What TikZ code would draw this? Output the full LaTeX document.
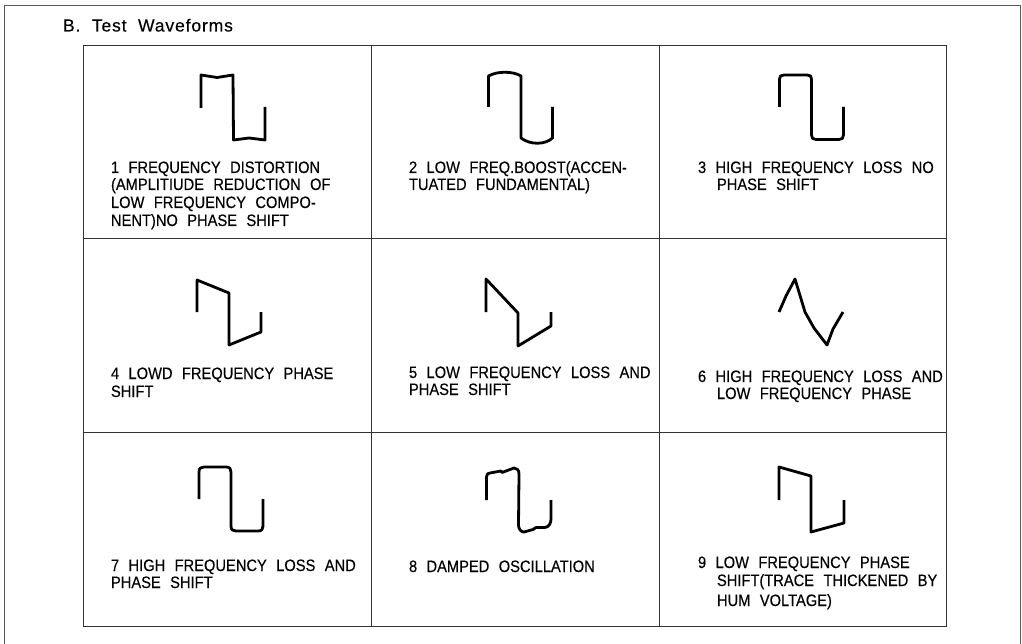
\documentclass[tikz,border=0pt]{standalone}
\usepackage{fontspec}
\setmainfont[WordSpace=2.3,FakeStretch=0.89,FakeBold=0.25]{Liberation Sans}
\newfontfamily\titlefont[WordSpace=2.0,LetterSpace=5,FakeBold=0.25]{Liberation Sans}
\tikzset{
 frameline/.style={draw=black!65,line width=1.1pt},
 gridline/.style={draw=black!80,line width=0.9pt},
 wave/.style={draw=black,line width=2.8pt,line join=round,line cap=butt},
 lbl/.style={anchor=base west,inner sep=0pt,outer sep=0pt,font=\fontsize{16.5}{16.5}\selectfont}
}
\begin{document}
\begin{tikzpicture}[x=1pt,y=-1pt]
\useasboundingbox (0,0) rectangle (1022,644);
\fill[white] (0,0) rectangle (1022,644);
\coordinate (fa) at (4.5,644); \coordinate (fb) at (4.5,5.5); \coordinate (fc) at (1020.5,5.5); \coordinate (fd) at (1020.5,644);
\draw[frameline] (fa) -- (fb) -- (fc) -- (fd);
\coordinate (ga) at (83.5,45); \coordinate (gb) at (946,626);
\draw[gridline] (ga) rectangle (gb);
\draw[gridline] (371.5,45) -- (371.5,626);
\draw[gridline] (659,45) -- (659,626);
\draw[gridline] (83.5,238.5) -- (946,238.5);
\draw[gridline] (83.5,432.5) -- (946,432.5);
\node[lbl,font=\fontsize{17.5}{17.5}\selectfont\titlefont] (title) at (63,31.5) {B. Test Waveforms};
% waves
\draw[wave] (201,108) -- (201,75) -- (217,77.5) -- (233,75) -- (233.5,140) -- (249,138) -- (265,140) -- (265,107);
\draw[wave] (488.5,107) -- (488.5,76) .. controls (497,71) and (513,71) .. (521,76) -- (521,138) .. controls (530,145) and (545,145) .. (552.5,138) -- (552.5,107);
\draw[wave] (779.5,107) -- (779.5,79) .. controls (779.5,76) and (781,75) .. (784,75) -- (807,75) .. controls (810,75) and (811.5,76) .. (811.5,79) -- (811.5,135) .. controls (811.5,138) and (813,139.5) .. (816,139.5) -- (839,139.5) .. controls (842,139.5) and (843.5,138) .. (843.5,135) -- (843.5,107);
\draw[wave] (197,312) -- (197,280) -- (229,293) -- (229,345) -- (261,332) -- (261,312);
\draw[wave] (486,312) -- (486,279) -- (518,313) -- (518,346) -- (551,326) -- (551,312);
\draw[wave] (779,312) -- (786,296) -- (795,279) -- (805,312) -- (814,328) -- (827,345) -- (833,329) -- (843,312);
\draw[wave] (199,499) -- (199,472) .. controls (199,468) and (201,467) .. (204,467) -- (226,467) .. controls (230,467) and (231,469) .. (231,472) -- (231,526) .. controls (231,530) and (233,531) .. (236,531) -- (258,531) .. controls (262,531) and (263,529) .. (263,526) -- (263,499);
\draw[wave] (486.5,500) -- (486.5,477) .. controls (486.5,474) and (488,473) .. (490,473) -- (501,471) -- (502,472.5) -- (514,468) .. controls (517,468) and (519,470) .. (519,474) -- (518.5,525) .. controls (518.5,529) and (521,532) .. (524,532) -- (533,529.5) -- (536,527.5) -- (545,527.5) .. controls (549,527) and (551,523) .. (551,519) -- (551,500);
\draw[wave] (779,500) -- (779,467) -- (811,476) -- (811,532) -- (844,523) -- (844,500);
% labels
\node[lbl] (a1) at (111,173) {1 FREQUENCY DISTORTION};
\node[lbl] (a2) at (111,190) {(AMPLITIUDE REDUCTION OF};
\node[lbl] (a3) at (111,208) {LOW FREQUENCY COMPO-};
\node[lbl] (a4) at (111,226) {NENT)NO PHASE SHIFT};
\node[lbl] (b1) at (409,173) {2 LOW FREQ.BOOST(ACCEN-};
\node[lbl] (b2) at (409,190) {TUATED FUNDAMENTAL)};
\node[lbl] (c1) at (698,173) {3 HIGH FREQUENCY LOSS NO};
\node[lbl] (c2) at (717,190) {PHASE SHIFT};
\node[lbl] (d1) at (111,379) {4 LOWD FREQUENCY PHASE};
\node[lbl] (d2) at (111,397) {SHIFT};
\node[lbl] (e1) at (409,378) {5 LOW FREQUENCY LOSS AND};
\node[lbl] (e2) at (409,395) {PHASE SHIFT};
\node[lbl] (f1) at (698,382) {6 HIGH FREQUENCY LOSS AND};
\node[lbl] (f2) at (717,399) {LOW FREQUENCY PHASE};
\node[lbl] (g1) at (111,571) {7 HIGH FREQUENCY LOSS AND};
\node[lbl] (g2) at (111,588) {PHASE SHIFT};
\node[lbl] (h1) at (409,572) {8 DAMPED OSCILLATION};
\node[lbl] (i1) at (698,568) {9 LOW FREQUENCY PHASE};
\node[lbl] (i2) at (717,586) {SHIFT(TRACE THICKENED BY};
\node[lbl] (i3) at (717,606) {HUM VOLTAGE)};
\end{tikzpicture}
\end{document}
